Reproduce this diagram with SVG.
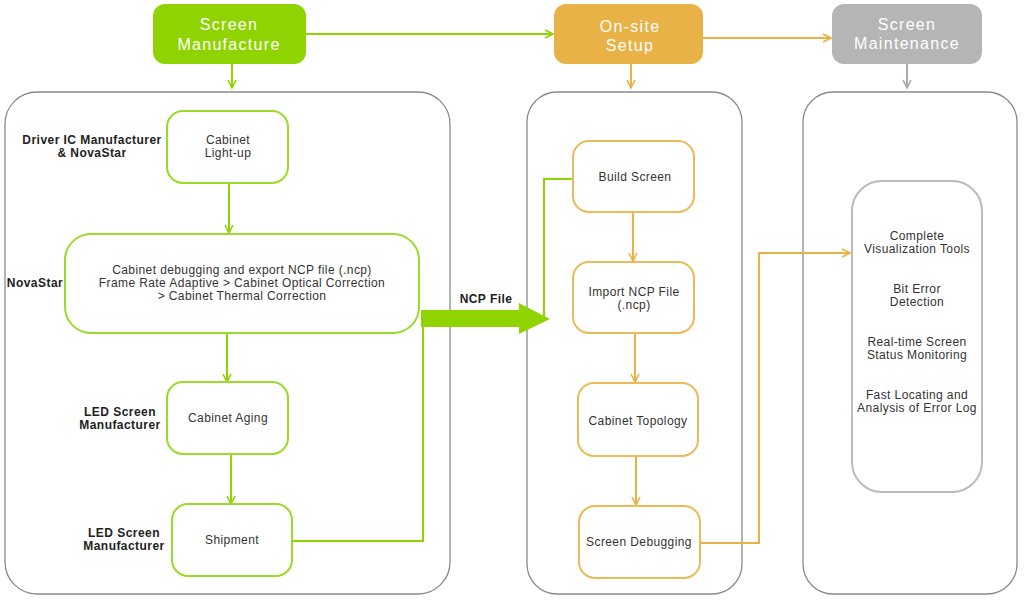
<svg xmlns="http://www.w3.org/2000/svg" width="1024" height="600" viewBox="0 0 1024 600">
<defs>
<marker id="ag" viewBox="0 0 10 10" refX="9" refY="5" markerWidth="10" markerHeight="10" markerUnits="userSpaceOnUse" orient="auto"><path d="M1,1 L9,5 L1,9" fill="none" stroke="#8fd400" stroke-width="1.6"/></marker>
<marker id="ao" viewBox="0 0 10 10" refX="9" refY="5" markerWidth="10" markerHeight="10" markerUnits="userSpaceOnUse" orient="auto"><path d="M1,1 L9,5 L1,9" fill="none" stroke="#e9b246" stroke-width="1.6"/></marker>
<marker id="ay" viewBox="0 0 10 10" refX="9" refY="5" markerWidth="10" markerHeight="10" markerUnits="userSpaceOnUse" orient="auto"><path d="M1,1 L9,5 L1,9" fill="none" stroke="#aaaaaa" stroke-width="1.6"/></marker>
</defs>
<style>
text{font-family:"Liberation Sans",Arial,sans-serif;}
.hd{font-size:16px;fill:#fff;text-anchor:middle;letter-spacing:1.3px;}
.nt{font-size:12px;fill:#333;text-anchor:middle;letter-spacing:0.4px;}
.lb{font-size:12px;fill:#222;font-weight:bold;text-anchor:middle;letter-spacing:0.45px;}
.ct{fill:none;stroke:#8a8a8a;stroke-width:1.3;}
.gn{fill:#fff;stroke:#9bd92a;stroke-width:2;}
.on{fill:#fff;stroke:#ebbb5a;stroke-width:2;}
.gl{fill:none;stroke:#8fd400;stroke-width:2;}
.ol{fill:none;stroke:#e9b246;stroke-width:2;}
.yl{fill:none;stroke:#aaaaaa;stroke-width:2;}
</style>
<rect width="1024" height="600" fill="#fff"/>

<g id="containers">
<rect class="ct" x="5" y="92" width="445" height="502" rx="32"/>
<rect class="ct" x="527" y="92" width="215" height="502" rx="30"/>
<rect class="ct" x="803" y="92" width="214" height="502" rx="30"/>
</g>

<g id="connectors">
<path class="gl" d="M306,34 H553" marker-end="url(#ag)"/>
<path class="ol" d="M703,38 H831" marker-end="url(#ao)"/>
<path class="gl" d="M232,64 V88" marker-end="url(#ag)"/>
<path class="ol" d="M631,64 V88" marker-end="url(#ao)"/>
<path class="yl" d="M907,64 V88" marker-end="url(#ay)"/>
<path class="gl" d="M229,183 V233" marker-end="url(#ag)"/>
<path class="gl" d="M227,333 V382" marker-end="url(#ag)"/>
<path class="gl" d="M231,454 V504" marker-end="url(#ag)"/>
<path class="gl" d="M292,541 H423 V318"/>
<path class="gl" d="M573,179 H544 V318"/>
<path d="M421,310 H519 V303 L550,319 L519,334 V327 H421 Z" fill="#8fd400"/>
<text class="lb" x="486" y="303">NCP File</text>
<path class="ol" d="M633,212 V261" marker-end="url(#ao)"/>
<path class="ol" d="M635,333 V382" marker-end="url(#ao)"/>
<path class="ol" d="M636,456 V505" marker-end="url(#ao)"/>
<path class="ol" d="M700,543 H759 V253 H850" marker-end="url(#ao)"/>
</g>

<g id="h-manufacture">
<rect x="153" y="4" width="153" height="60" rx="12" fill="#8fd400"/>
<text class="hd" x="229" y="30">Screen</text>
<text class="hd" x="229" y="50">Manufacture</text>
</g>
<g id="h-setup">
<rect x="554" y="4" width="149" height="60" rx="12" fill="#e9b246"/>
<text class="hd" x="630" y="32">On-site</text>
<text class="hd" x="630" y="51">Setup</text>
</g>
<g id="h-maintenance">
<rect x="832" y="4" width="150" height="60" rx="12" fill="#b5b5b5"/>
<text class="hd" x="907" y="30">Screen</text>
<text class="hd" x="907" y="49">Maintenance</text>
</g>

<g id="labels">
<text class="lb" x="92" y="144">Driver IC Manufacturer</text>
<text class="lb" x="92" y="157">&amp; NovaStar</text>
<text class="lb" x="35" y="287">NovaStar</text>
<text class="lb" x="120" y="416">LED Screen</text>
<text class="lb" x="120" y="429">Manufacturer</text>
<text class="lb" x="124" y="537">LED Screen</text>
<text class="lb" x="124" y="550">Manufacturer</text>
</g>

<g id="n-lightup">
<rect class="gn" x="167" y="111" width="121" height="72" rx="16"/>
<text class="nt" x="228" y="144">Cabinet</text>
<text class="nt" x="228" y="157">Light-up</text>
</g>
<g id="n-debug">
<rect class="gn" x="65" y="234" width="354" height="99" rx="26"/>
<text class="nt" x="242" y="274">Cabinet debugging and export NCP file (.ncp)</text>
<text class="nt" x="242" y="287">Frame Rate Adaptive &gt; Cabinet Optical Correction</text>
<text class="nt" x="242" y="300">&gt; Cabinet Thermal Correction</text>
</g>
<g id="n-aging">
<rect class="gn" x="167" y="382" width="121" height="72" rx="16"/>
<text class="nt" x="228" y="422">Cabinet Aging</text>
</g>
<g id="n-shipment">
<rect class="gn" x="172" y="504" width="120" height="72" rx="16"/>
<text class="nt" x="232" y="544">Shipment</text>
</g>

<g id="n-build">
<rect class="on" x="573" y="141" width="121" height="71" rx="16"/>
<text class="nt" x="635" y="181">Build Screen</text>
</g>
<g id="n-import">
<rect class="on" x="573" y="262" width="121" height="71" rx="16"/>
<text class="nt" x="634" y="296">Import NCP File</text>
<text class="nt" x="634" y="309">(.ncp)</text>
</g>
<g id="n-topology">
<rect class="on" x="578" y="383" width="120" height="73" rx="16"/>
<text class="nt" x="638" y="425">Cabinet Topology</text>
</g>
<g id="n-screendebug">
<rect class="on" x="579" y="506" width="121" height="72" rx="16"/>
<text class="nt" x="639" y="546">Screen Debugging</text>
</g>

<g id="n-tools">
<rect x="852" y="181" width="130" height="311" rx="30" fill="#fff" stroke="#bbbbbb" stroke-width="2"/>
<text class="nt" x="917" y="240">Complete</text>
<text class="nt" x="917" y="253">Visualization Tools</text>
<text class="nt" x="917" y="293">Bit Error</text>
<text class="nt" x="917" y="306">Detection</text>
<text class="nt" x="917" y="346">Real-time Screen</text>
<text class="nt" x="917" y="359">Status Monitoring</text>
<text class="nt" x="917" y="399">Fast Locating and</text>
<text class="nt" x="917" y="412">Analysis of Error Log</text>
</g>
</svg>
